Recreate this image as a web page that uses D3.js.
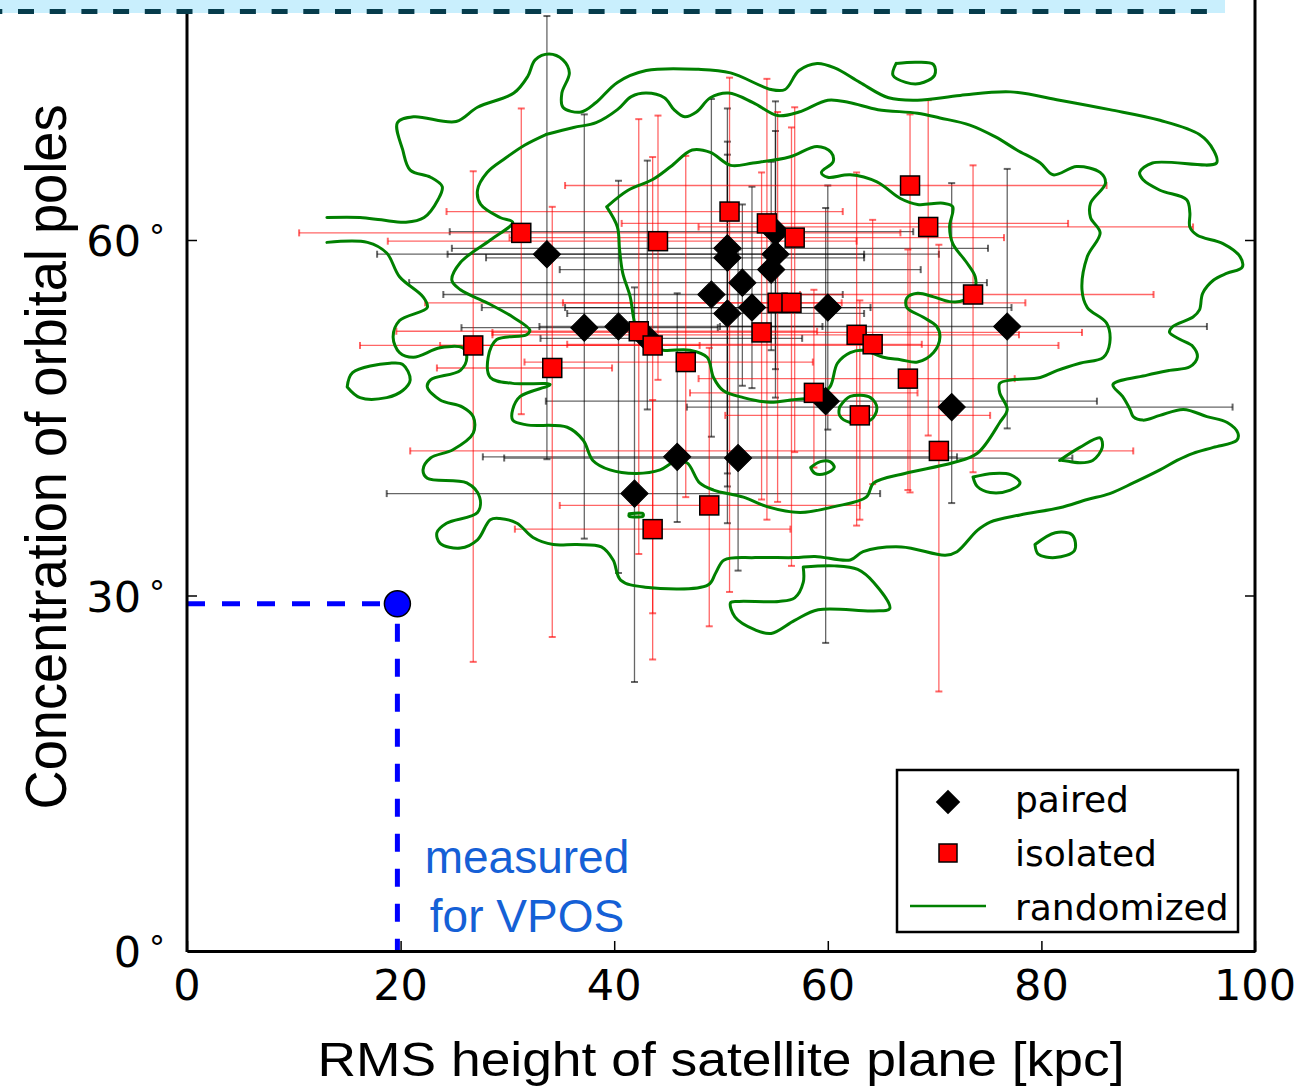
<!DOCTYPE html>
<html><head><meta charset="utf-8">
<script src="https://cdn.jsdelivr.net/npm/d3@7"></script>
<style>
html,body{margin:0;padding:0;background:#fff;}
svg{display:block;overflow:hidden;}
</style></head>
<body>
<svg id="chart" width="1307" height="1089"></svg>
<script>
// ---------- DATA ----------
// [x, y, xlo, xhi, ylo, yhi]  (x in kpc, y in degrees)
const paired = [
 [33.7,58.8,17.8,63.4,41.5,78.9],
 [37.2,52.6,25.7,49.7,34.8,70.6],
 [40.4,52.7,33.0,59.5,31.9,65.0],
 [43.1,51.7,33.1,57.6,45.7,66.7],
 [41.9,38.6,18.7,64.9,22.7,56.0],
 [45.9,41.7,27.7,72.1,36.2,55.5],
 [49.1,55.4,24.0,61.4,43.4,71.9],
 [50.6,59.3,24.8,75.0,40.3,71.1],
 [50.6,58.5,28.0,63.4,39.2,68.3],
 [50.6,53.8,35.6,63.4,36.1,67.2],
 [52.0,56.4,20.8,74.9,47.7,63.0],
 [52.9,54.3,35.4,64.0,47.5,64.5],
 [51.6,41.6,29.7,82.9,32.1,59.2],
 [55.1,60.7,24.6,68.0,46.7,71.7],
 [55.1,58.8,24.4,70.4,49.1,69.2],
 [54.7,57.5,34.9,68.7,50.7,66.6],
 [60.0,54.3,27.6,77.2,44.0,64.6],
 [59.8,46.4,33.6,85.2,26.0,62.7],
 [71.6,45.9,46.8,97.9,37.8,64.8],
 [76.8,52.7,49.9,95.5,44.1,66.0]
];
const isolated = [
 [31.3,60.6,10.5,66.8,45.3,71.1],
 [26.8,51.1,16.2,48.0,24.4,65.8],
 [34.2,49.2,23.4,39.8,26.5,62.8],
 [44.1,59.9,18.8,62.7,48.2,70.5],
 [42.3,52.3,19.6,59.0,33.5,70.2],
 [43.6,51.1,23.7,81.6,28.5,67.0],
 [46.7,49.7,31.6,58.6,38.3,67.1],
 [43.6,35.6,30.7,56.5,24.6,46.5],
 [48.9,37.6,34.9,63.0,27.4,50.9],
 [50.8,62.4,24.3,61.4,30.3,73.7],
 [54.3,61.4,40.7,82.5,36.4,73.6],
 [56.9,60.2,30.2,76.5,42.1,71.2],
 [55.3,54.7,22.3,78.5,37.9,70.8],
 [56.6,54.7,35.2,61.3,32.5,69.5],
 [53.8,52.2,28.6,83.8,38.1,65.7],
 [58.7,47.1,47.1,68.4,40.8,55.8],
 [62.7,52.0,28.6,77.9,35.9,65.7],
 [64.2,51.2,35.6,68.8,39.4,61.7],
 [63.0,45.2,50.4,75.2,36.4,54.9],
 [67.7,64.6,35.4,86.1,38.7,70.6],
 [69.4,61.1,47.9,94.2,43.5,71.8],
 [67.5,48.3,47.9,77.5,38.9,59.2],
 [73.6,55.4,57.4,90.5,40.4,66.3],
 [70.4,42.2,20.9,88.6,21.9,59.6]
];
const vpos = [19.7, 29.3];

// randomized contours [x, y]
const contourOuter = [[13.1,61.9],[16.2,61.9],[18.2,61.7],[20.5,61.5],[22.2,61.9],[23.5,63.4],[23.9,64.5],[22.8,65.3],[20.9,65.9],[20.2,67.6],[19.7,69.9],[21.2,70.4],[25.2,70.0],[27.2,71.2],[30.6,72.4],[31.9,73.8],[32.6,75.2],[33.9,75.7],[35.2,75.2],[35.8,74.1],[35.1,72.4],[35.2,71.2],[36.9,70.8],[38.3,71.6],[40.3,73.3],[43.0,74.3],[47.9,74.4],[50.9,74.1],[54.7,72.7],[56.0,72.7],[57.3,74.3],[59.0,74.9],[60.7,74.5],[63.0,73.3],[65.7,72.0],[68.4,71.8],[72.4,72.2],[77.1,72.5],[81.7,71.8],[86.4,71.0],[91.1,70.1],[94.8,68.9],[96.1,67.6],[96.4,66.5],[90.4,66.5],[89.2,65.7],[89.5,65.1],[91.1,64.2],[93.6,63.4],[93.9,62.3],[93.9,61.1],[94.6,60.4],[97.0,59.7],[98.6,58.6],[98.8,57.7],[97.4,57.2],[96.1,56.6],[95.1,55.5],[94.8,54.1],[94.2,53.5],[92.3,52.7],[92.0,52.2],[93.0,51.6],[94.2,51.0],[94.6,50.1],[93.9,49.3],[92.0,49.0],[89.9,48.6],[86.7,47.8],[87.6,46.8],[88.3,45.7],[88.6,45.1],[89.5,44.8],[91.1,45.2],[93.3,45.7],[95.5,45.1],[97.4,44.6],[98.4,43.7],[98.3,43.1],[96.1,42.5],[94.2,42.0],[92.7,41.4],[91.1,40.6],[88.6,39.5],[86.4,38.6],[84.3,38.1],[81.7,37.4],[78.0,36.8],[75.2,36.2],[74.0,35.5],[72.1,33.7],[71.0,33.4],[66.9,34.1],[63.3,33.7],[62.1,33.0],[58.8,33.3],[56.9,33.2],[53.2,33.2],[50.3,33.0],[49.5,31.9],[48.8,30.9],[42.9,30.7],[40.6,31.3],[39.9,33.0],[38.8,34.1],[36.5,34.3],[34.3,34.3],[32.4,34.9],[30.9,36.1],[29.3,36.5],[28.4,36.4],[27.2,34.7],[25.6,34.0],[23.7,34.4],[23.4,35.3],[24.3,36.1],[27.2,37.0],[27.4,38.3],[26.2,39.5],[22.5,39.9],[22.1,40.6],[22.8,41.6],[24.9,42.3],[26.8,43.7],[26.8,45.1],[25.8,45.9],[23.7,46.5],[22.5,47.6],[22.8,48.2],[25.6,49.0],[26.2,50.1],[25.8,50.9],[23.7,50.9],[21.2,50.1],[19.9,50.5],[19.3,51.8],[19.9,53.2],[22.5,54.3],[22.1,55.2],[19.9,56.9],[18.7,58.9],[16.9,59.8],[13.1,59.8]];
const contourMiddle = [[33.6,68.9],[31.6,68.0],[29.8,66.9],[28.1,65.7],[27.2,64.2],[27.5,63.0],[29.3,61.9],[30.5,61.5],[28.4,60.0],[25.6,58.1],[24.8,56.6],[25.6,55.8],[28.1,54.7],[30.5,53.5],[32.1,52.4],[31.8,52.0],[29.0,51.6],[28.2,50.1],[28.4,48.4],[30.5,47.9],[34.0,47.8],[31.2,46.8],[30.5,45.7],[30.5,44.8],[31.8,44.4],[35.6,44.2],[37.1,43.1],[38.0,41.4],[39.6,40.6],[42.1,40.3],[44.3,40.6],[45.5,41.2],[46.8,41.2],[48.0,39.5],[49.3,38.9],[52.1,38.3],[54.3,37.5],[57.4,37.0],[60.6,37.5],[63.6,38.3],[64.3,39.5],[67.2,40.3],[71.7,41.2],[74.0,42.0],[76.1,44.6],[76.8,45.7],[76.1,47.1],[76.1,47.9],[77.3,48.2],[79.9,48.4],[81.5,49.0],[83.6,49.6],[85.8,50.1],[86.4,51.3],[86.1,53.0],[84.3,54.3],[83.8,55.8],[84.3,58.6],[85.5,60.6],[84.6,61.9],[84.6,63.1],[86.0,64.8],[85.5,65.7],[83.3,66.2],[81.1,65.5],[79.9,66.5],[77.7,67.6],[75.7,68.7],[73.3,69.7],[70.5,70.3],[68.4,70.7],[64.7,71.0],[62.0,71.6],[60.0,71.8],[57.3,70.8],[55.3,70.5],[53.0,71.6],[50.7,72.4],[49.0,72.0],[47.7,70.8],[46.6,70.4],[45.6,71.0],[44.7,72.0],[43.0,72.4],[41.6,72.1],[40.3,71.0],[38.3,69.9],[36.2,69.5],[33.6,68.9]];
const contourInner = [[39.3,62.8],[41.3,64.2],[43.6,65.1],[45.3,66.2],[47.3,67.6],[49.0,67.4],[50.9,66.3],[53.0,66.5],[56.4,67.0],[59.0,67.9],[60.3,67.4],[60.5,66.6],[59.4,65.7],[60.0,65.3],[62.1,65.5],[64.6,64.9],[66.8,63.5],[68.4,63.0],[70.8,63.1],[71.7,62.8],[71.4,61.1],[71.7,59.7],[73.0,58.1],[73.8,56.9],[73.8,56.0],[72.7,54.9],[71.4,54.8],[69.9,55.2],[68.4,55.5],[67.4,55.1],[67.4,54.3],[68.9,53.5],[70.2,52.7],[70.5,51.8],[69.9,50.5],[68.4,49.7],[66.8,49.9],[65.2,50.1],[63.3,50.7],[62.1,50.5],[60.9,49.6],[60.2,47.6],[59.0,46.8],[56.5,46.5],[54.6,46.3],[52.1,46.7],[50.2,47.3],[49.3,48.4],[48.7,50.1],[47.1,50.7],[44.6,50.7],[43.4,51.0],[42.1,52.4],[41.8,53.5],[41.5,55.2],[40.8,57.2],[40.5,59.2],[40.3,61.1],[39.3,62.8]];
const contourIslands = [
 [[15.0,47.6],[15.5,48.8],[19.0,49.6],[20.2,49.5],[20.9,48.2],[20.2,47.3],[18.7,46.7],[16.2,46.7],[15.0,47.6]],
 [[61.1,45.9],[62.1,46.8],[64.0,46.7],[64.6,45.8],[64.0,44.8],[62.1,44.6],[61.1,45.2],[61.1,45.9]],
 [[58.4,40.8],[59.3,41.3],[60.2,41.3],[60.6,40.8],[59.8,40.3],[58.8,40.3],[58.4,40.8]],
 [[73.6,40.0],[75.5,40.3],[77.1,40.2],[78.0,39.5],[77.1,38.9],[75.2,38.7],[74.0,39.2],[73.6,40.0]],
 [[81.7,41.4],[83.6,42.5],[85.5,43.3],[85.7,42.5],[84.8,41.4],[83.6,41.2],[82.0,41.4],[81.7,41.4]],
 [[57.7,32.4],[60.6,32.5],[62.8,32.2],[64.3,31.1],[65.8,28.9],[64.3,28.7],[59.1,28.8],[56.9,27.9],[54.7,26.8],[53.2,27.1],[51.3,28.2],[50.9,29.4],[51.7,29.5],[55.4,29.5],[56.9,29.8],[57.7,31.1],[57.7,32.4]],
 [[66.4,74.9],[68.4,75.0],[69.9,74.8],[70.0,73.9],[68.6,73.2],[67.3,73.3],[66.1,73.9],[66.4,74.9]],
 [[79.4,34.3],[81.3,35.3],[82.9,35.1],[83.1,33.8],[81.3,33.2],[79.7,33.5],[79.4,34.3]],
 [[41.4,36.9],[42.7,36.9],[42.7,36.7],[41.4,36.7],[41.4,36.9]]
];
const xTicks = [0,20,40,60,80,100];
const yTicks = [0,30,60];
const legendLabels = ["paired","isolated","randomized"];

// ---------- SCALES ----------
const x = d3.scaleLinear().domain([0,100]).range([187,1255]);
const y = d3.scaleLinear().domain([0,60]).range([951,240]);
const svg = d3.select("#chart");

// top band (cropped header)
svg.append("rect").attr("x",0).attr("y",0).attr("width",1225).attr("height",13).attr("fill","#c9effd");
svg.append("line").attr("x1",0).attr("x2",1222).attr("y1",11.5).attr("y2",11.5)
  .attr("stroke","#063c4c").attr("stroke-width",5).attr("stroke-dasharray","16,15.7").attr("stroke-dashoffset",13.7);

const plot = svg.append("g");
svg.append("clipPath").attr("id","pc").append("rect")
  .attr("x",187).attr("y",14).attr("width",1068).attr("height",937);
plot.attr("clip-path","url(#pc)");

// error bars
function bars(data, color, op){
  const g = plot.append("g").attr("stroke",color).attr("stroke-opacity",op).attr("fill","none");
  data.forEach(d=>{
    const cx=x(d[0]), cy=y(d[1]);
    g.append("line").attr("x1",x(d[2])).attr("x2",x(d[3])).attr("y1",cy).attr("y2",cy).attr("stroke-width",1.3);
    g.append("line").attr("x1",cx).attr("x2",cx).attr("y1",y(d[4])).attr("y2",y(d[5])).attr("stroke-width",1.3);
    [d[2],d[3]].forEach(v=>g.append("line").attr("x1",x(v)).attr("x2",x(v)).attr("y1",cy-3.5).attr("y2",cy+3.5).attr("stroke-width",2));
    [d[4],d[5]].forEach(v=>g.append("line").attr("y1",y(v)).attr("y2",y(v)).attr("x1",cx-3.5).attr("x2",cx+3.5).attr("stroke-width",2));
  });
}
bars(paired,"#000",0.6);
bars(isolated,"#ff0000",0.6);

// contours
const line = d3.line().x(d=>x(d[0])).y(d=>y(d[1])).curve(d3.curveCatmullRom.alpha(0.5));
const cg = plot.append("g").attr("fill","none").attr("stroke","#008000").attr("stroke-width",3).attr("stroke-linejoin","round").attr("stroke-linecap","round");
[contourOuter, contourMiddle, contourInner, ...contourIslands].forEach(c=>cg.append("path").attr("d",line(c)));

// markers
const diamond = d3.symbol().type(d3.symbolSquare).size(370);
plot.append("g").selectAll("path").data(paired).join("path")
  .attr("d",diamond()).attr("transform",d=>`translate(${x(d[0])},${y(d[1])}) rotate(45)`)
  .attr("fill","#000").attr("stroke","#000").attr("stroke-width",1);
plot.append("g").selectAll("rect").data(isolated).join("rect")
  .attr("x",d=>x(d[0])-9.5).attr("y",d=>y(d[1])-9.5).attr("width",19).attr("height",19)
  .attr("fill","#ff0000").attr("stroke","#000").attr("stroke-width",1.5);

// VPOS measurement
const vg = svg.append("g");
vg.append("line").attr("x1",x(0)).attr("x2",x(vpos[0])).attr("y1",y(vpos[1])).attr("y2",y(vpos[1]))
  .attr("stroke","#0000ff").attr("stroke-width",5).attr("stroke-dasharray","18,17");
vg.append("line").attr("x1",x(vpos[0])).attr("x2",x(vpos[0])).attr("y1",y(vpos[1])).attr("y2",y(0))
  .attr("stroke","#0000ff").attr("stroke-width",5).attr("stroke-dasharray","18,17").attr("stroke-dashoffset",-20);
vg.append("circle").attr("cx",x(vpos[0])).attr("cy",y(vpos[1])).attr("r",13)
  .attr("fill","#0000ff").attr("stroke","#000").attr("stroke-width",1.5);
const ann = vg.append("text").attr("font-family","Liberation Sans, Arial, sans-serif").attr("font-size",46)
  .attr("fill","#1560d6").attr("text-anchor","middle");
ann.append("tspan").attr("x",527).attr("y",873).text("measured");
ann.append("tspan").attr("x",527).attr("y",932).text("for VPOS");

// axes frame
const ax = svg.append("g");
ax.append("g").attr("transform","translate(0,951)")
  .call(d3.axisBottom(x).tickValues(xTicks).tickSizeInner(-10).tickSizeOuter(0).tickFormat(""))
  .call(g=>{g.select(".domain").attr("stroke-width",3);g.selectAll(".tick line").attr("stroke-width",1.5);});
ax.append("g").attr("transform","translate(187,0)")
  .call(d3.axisLeft(y).tickValues(yTicks).tickSizeInner(-10).tickSizeOuter(0).tickFormat(""))
  .call(g=>{g.select(".domain").remove();g.selectAll(".tick line").attr("stroke-width",1.5);});
ax.append("g").attr("transform","translate(1255,0)")
  .call(d3.axisRight(y).tickValues(yTicks).tickSizeInner(-10).tickSizeOuter(0).tickFormat(""))
  .call(g=>{g.select(".domain").remove();g.selectAll(".tick line").attr("stroke-width",1.5);});
ax.append("line").attr("x1",187).attr("x2",187).attr("y1",14).attr("y2",952).attr("stroke","#000").attr("stroke-width",3);
ax.append("line").attr("x1",1255).attr("x2",1255).attr("y1",0).attr("y2",952).attr("stroke","#000").attr("stroke-width",3);

// tick labels
svg.append("g").selectAll("text").data(xTicks).join("text")
  .attr("x",d=>x(d)).attr("y",1000).attr("text-anchor","middle")
  .attr("font-family","DejaVu Sans, sans-serif").attr("font-size",43).text(d=>d);
svg.append("g").selectAll("text").data(yTicks).join("text")
  .attr("x",141).attr("y",d=>y(d)+16).attr("text-anchor","end")
  .attr("font-family","DejaVu Sans, sans-serif").attr("font-size",43).text(d=>d);
svg.append("g").selectAll("text").data(yTicks).join("text")
  .attr("x",147).attr("y",d=>y(d)-1).attr("font-family","DejaVu Sans, sans-serif").attr("font-size",32).text("∘");

// axis labels
svg.append("text").attr("x",721).attr("y",1076).attr("text-anchor","middle")
  .attr("font-family","Liberation Sans, Arial, sans-serif").attr("font-size",48)
  .attr("textLength",807).attr("lengthAdjust","spacingAndGlyphs")
  .text("RMS height of satellite plane [kpc]");
svg.append("text").attr("transform","translate(66,457) rotate(-90)").attr("text-anchor","middle")
  .attr("font-family","Liberation Sans Narrow, Liberation Sans, Arial, sans-serif").attr("font-size",58)
  .attr("textLength",705).attr("lengthAdjust","spacingAndGlyphs")
  .text("Concentration of orbital poles");

// legend
const lg = svg.append("g");
lg.append("rect").attr("x",897).attr("y",770).attr("width",341).attr("height",162)
  .attr("fill","#fff").attr("stroke","#000").attr("stroke-width",2.5);
lg.append("path").attr("d",d3.symbol().type(d3.symbolSquare).size(300)()).attr("transform","translate(948,802) rotate(45)").attr("fill","#000");
lg.append("rect").attr("x",939).attr("y",844).attr("width",18).attr("height",18).attr("fill","#ff0000").attr("stroke","#000").attr("stroke-width",1.5);
lg.append("line").attr("x1",910).attr("x2",986).attr("y1",906).attr("y2",906).attr("stroke","#008000").attr("stroke-width",2.5);
lg.selectAll("text").data(legendLabels).join("text")
  .attr("x",1015).attr("y",(d,i)=>812+i*54)
  .attr("font-family","DejaVu Sans, sans-serif").attr("font-size",36).text(d=>d);
</script>
</body></html>
